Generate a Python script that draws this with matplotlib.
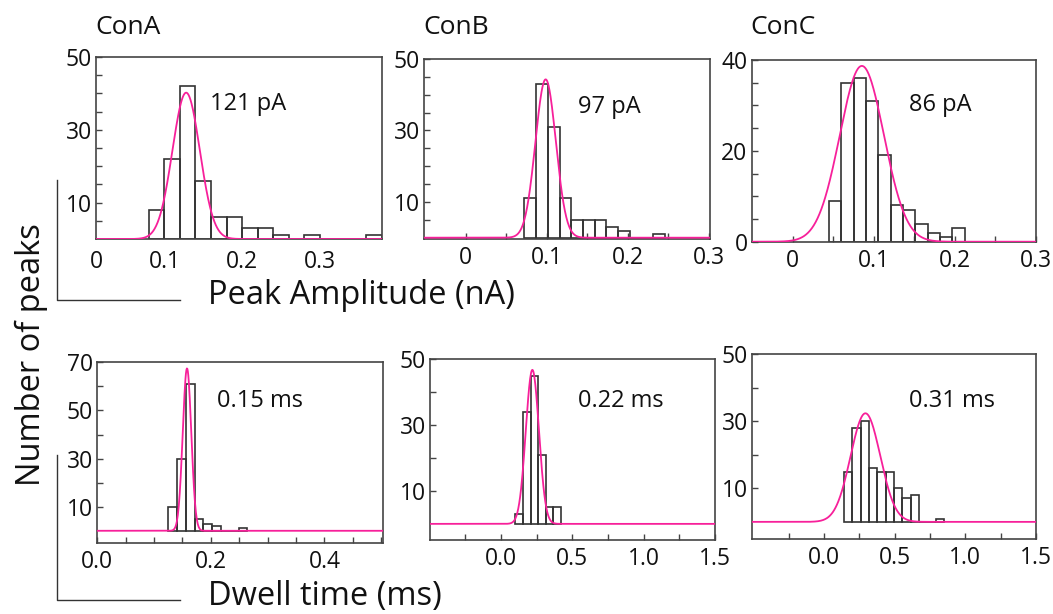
import matplotlib
matplotlib.use('Agg')
import matplotlib.pyplot as plt
from matplotlib.lines import Line2D
import numpy as np

plt.rcParams['font.family'] = ['Open Sans', 'DejaVu Sans']

# ---- data ----
# top row: peak amplitude (nA)
titles = ['ConA', 'ConB', 'ConC']
amp_labels = ['121 pA', '97 pA', '86 pA']
amp_bin_start = [0.08, 0.0723, 0.045]
amp_bin_width = [0.02, 0.0145, 0.0152]
ampA_counts = [8, 22, 42, 16, 6, 6, 3, 3, 1, 0, 1, 0, 0, 0, 1]
ampB_counts = [11, 43, 31, 11, 5, 5, 5, 3, 2, 0, 0, 1]
ampC_counts = [9, 35, 36, 31, 19, 8, 7, 4, 2, 1, 3]
amp_fit_center = [0.128, 0.0987, 0.0853]
amp_fit_sigma = [0.0176, 0.0126, 0.0272]
amp_fit_height = [40.2, 44.3, 38.7]

# bottom row: dwell time (ms)
dwell_labels = ['0.15 ms', '0.22 ms', '0.31 ms']
dwell_bin_start = [0.125, 0.1026, 0.141]
dwell_bin_width = [0.0155, 0.0527, 0.0591]
dwellA_counts = [10, 30, 61, 5, 3, 2, 0, 0, 1]
dwellB_counts = [3, 34, 45, 21, 5, 5]
dwellC_counts = [15, 28, 30, 16, 15, 15, 10, 7, 8, 0, 0, 1]
dwell_fit_center = [0.158, 0.221, 0.294]
dwell_fit_sigma = [0.0075, 0.046, 0.105]
dwell_fit_height = [67.5, 46.8, 32.4]

amp_counts = [ampA_counts, ampB_counts, ampC_counts]
dwell_counts = [dwellA_counts, dwellB_counts, dwellC_counts]

PINK = '#f7209a'
EDGE = '#333333'
TXT = '#111111'
W, H = 1053, 614

fig = plt.figure(figsize=(10.53, 6.14), dpi=100)


def px_axes(left, top, right, bottom):
    return fig.add_axes([left / W, 1 - bottom / H, (right - left) / W, (bottom - top) / H])


def style(ax):
    for s in ax.spines.values():
        s.set_color('#444444')
        s.set_linewidth(1.2)
    ax.tick_params(direction='in', length=4, width=1, color='#444444',
                   labelsize=16.5, labelcolor=TXT)
    ax.tick_params(axis='y', pad=3)
    ax.tick_params(axis='x', pad=5)


def draw_hist(ax, start, width, counts, c, s, h, xlim):
    edges = start + width * np.arange(len(counts))
    ax.bar(edges, counts, width=width, align='edge', fill=False,
           edgecolor=EDGE, linewidth=1.2, zorder=2)
    xs = np.linspace(xlim[0], xlim[1], 600)
    ax.plot(xs, h * np.exp(-0.5 * ((xs - c) / s) ** 2), color=PINK, lw=1.3, zorder=3)
    ax.set_xlim(*xlim)


# top row axes (pixel boxes)
top_boxes = [(96, 57, 382, 239), (424, 59, 710, 239.3), (751.7, 60, 1036, 241.7)]
top_xlims = [(0.012, 0.38), (-0.0515, 0.3016), (-0.0505, 0.2996)]
top_ylims = [(0, 50), (-0.45, 50), (0, 40)]
ann_top = [(0.40, 0.742), (0.538, 0.735), (0.554, 0.752)]

for i in range(3):
    ax = px_axes(*top_boxes[i])
    style(ax)
    draw_hist(ax, amp_bin_start[i], amp_bin_width[i], amp_counts[i],
              amp_fit_center[i], amp_fit_sigma[i], amp_fit_height[i], top_xlims[i])
    ax.set_ylim(*top_ylims[i])
    if i < 2:
        yt = np.arange(5, 51, 5)
        ax.set_yticks(yt)
        ax.set_yticklabels([str(v) if v in (10, 30, 50) else '' for v in yt])
    else:
        yt = np.arange(0, 41, 5)
        ax.set_yticks(yt)
        ax.set_yticklabels([str(v) if v in (0, 20, 40) else '' for v in yt])
    if i == 0:
        ax.set_xticks([0.012, 0.1, 0.2, 0.3])
        ax.set_xticklabels(['0', '0.1', '0.2', '0.3'])
        ax.tick_params(axis='x', length=0, pad=8)
    else:
        xt = np.round(np.arange(0, 0.301, 0.05), 2)
        ax.set_xticks(xt)
        ax.set_xticklabels(['0' if v == 0 else (f'{v:.1f}' if round(v * 10, 6) % 1 == 0 else '') for v in xt])
    ax.text(ann_top[i][0], ann_top[i][1], amp_labels[i], transform=ax.transAxes,
            fontsize=17, va='center', ha='left', color=TXT)
    fig.text(top_boxes[i][0] / W - 0.001, 1 - 27 / H, titles[i], fontsize=19,
             va='center', ha='left', color=TXT)

# bottom row axes
bot_boxes = [(97.3, 362.3, 382.7, 543.3), (430, 359.3, 715, 540), (752.3, 354.3, 1036, 539.3)]
bot_xlims = [(0, 0.5026), (-0.496, 1.494), (-0.506, 1.497)]
bot_ylims = [(-5.2, 70), (-4.9, 50), (-5.2, 50)]
ann_bot = [(0.418, 0.788), (0.52, 0.771), (0.553, 0.749)]

for i in range(3):
    ax = px_axes(*bot_boxes[i])
    style(ax)
    draw_hist(ax, dwell_bin_start[i], dwell_bin_width[i], dwell_counts[i],
              dwell_fit_center[i], dwell_fit_sigma[i], dwell_fit_height[i], bot_xlims[i])
    ax.set_ylim(*bot_ylims[i])
    if i == 0:
        yt = np.arange(10, 71, 10)
        ax.set_yticks(yt)
        ax.set_yticklabels([str(v) if v in (10, 30, 50, 70) else '' for v in yt])
        xt = np.round(np.arange(0, 0.501, 0.05), 2)
        ax.set_xticks(xt)
        ax.set_xticklabels([f'{v:.1f}' if round(v * 10, 6) % 2 == 0 else '' for v in xt])
    else:
        yt = np.arange(10, 51, 10)
        ax.set_yticks(yt)
        ax.set_yticklabels([str(v) if v in (10, 30, 50) else '' for v in yt])
        xt = np.arange(-0.25, 1.51, 0.25)
        ax.set_xticks(xt)
        ax.set_xticklabels([f'{v:.1f}' if (v >= 0 and round(v * 2, 6) % 1 == 0) else '' for v in xt])
    ax.text(ann_bot[i][0], ann_bot[i][1], dwell_labels[i], transform=ax.transAxes,
            fontsize=17, va='center', ha='left', color=TXT)

# shared labels
fig.text(208 / W, 1 - 296 / H, 'Peak Amplitude (nA)', fontsize=23.5, va='center', ha='left', color=TXT)
fig.text(208 / W, 1 - 597 / H, 'Dwell time (ms)', fontsize=23.5, va='center', ha='left', color=TXT)
fig.text(31 / W, 1 - 355 / H, 'Number of peaks', fontsize=23.5, rotation=90, va='center', ha='center', color=TXT)

# L-shaped corner marks
for (y0, y1) in [(180, 300), (455, 600)]:
    fig.add_artist(Line2D([57 / W, 57 / W, 180 / W], [1 - y0 / H, 1 - y1 / H, 1 - y1 / H],
                          color='#333333', lw=1.0))

fig.savefig('out.png', dpi=100)
